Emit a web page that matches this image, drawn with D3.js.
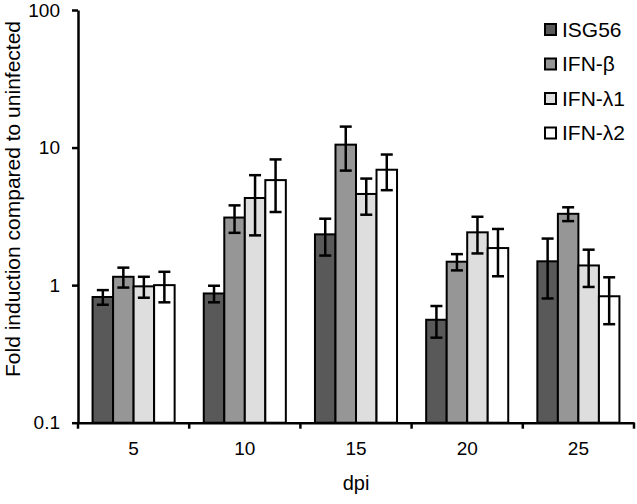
<!DOCTYPE html>
<html>
<head>
<meta charset="utf-8">
<script src="https://cdn.jsdelivr.net/npm/d3@7"></script>
<style>
  body { margin: 0; background: #fff; }
  svg { display: block; font-family: "Liberation Sans", Arial, sans-serif; }
</style>
</head>
<body>
<svg width="637" height="504"></svg>
<script>
// days post infection (x categories)
const days = ["5", "10", "15", "20", "25"];
const seriesNames = ["ISG56", "IFN-β", "IFN-λ1", "IFN-λ2"];
const seriesColors = ["#595959", "#969696", "#dedede", "#ffffff"];

// mean fold induction per series, one value per day
const isg56 = [0.82, 0.87, 2.34, 0.56, 1.49];
const ifnB = [1.15, 3.1, 10.5, 1.48, 3.3];
const ifnL1 = [0.98, 4.3, 4.6, 2.42, 1.39];
const ifnL2 = [1.0, 5.8, 6.9, 1.86, 0.83];

// error bar half-lengths (linear units)
const isg56Err = [0.10, 0.12, 0.70, 0.145, 0.69];
const ifnBErr = [0.19, 0.70, 3.7, 0.20, 0.38];
const ifnL1Err = [0.17, 2.0, 1.35, 0.72, 0.42];
const ifnL2Err = [0.25, 2.4, 2.0, 0.70, 0.31];

const yTicks = [0.1, 1, 10, 100];

const means = [isg56, ifnB, ifnL1, ifnL2];
const errs = [isg56Err, ifnBErr, ifnL1Err, ifnL2Err];

const svg = d3.select("svg");
const plot = { left: 78, right: 634, top: 10, bottom: 422.7 };

const x0 = d3.scaleBand().domain(days).range([plot.left, plot.right]).padding(0);
const x1 = d3.scaleBand().domain(seriesNames).range([0, x0.bandwidth()])
    .paddingInner(0).paddingOuter(0.71);
const y = d3.scaleLog().domain([0.1, 100]).range([plot.bottom, plot.top]);

// flatten into bar records
const rows = [];
days.forEach((d, i) => {
    seriesNames.forEach((s, j) => {
        rows.push({ day: d, series: s, color: seriesColors[j], value: means[j][i], err: errs[j][i] });
    });
});

const cx = d => x0(d.day) + x1(d.series) + x1.bandwidth() / 2;

const g = svg.append("g");

g.selectAll(".bar").data(rows).enter().append("rect")
    .attr("class", "bar")
    .attr("x", d => x0(d.day) + x1(d.series))
    .attr("y", d => y(d.value))
    .attr("width", x1.bandwidth())
    .attr("height", d => y(0.1) - y(d.value))
    .attr("fill", d => d.color)
    .attr("stroke", "#000")
    .attr("stroke-width", 2);

// error bars
const capW = 6;
const eb = g.selectAll(".err").data(rows).enter().append("g")
    .attr("class", "err")
    .attr("stroke", "#000")
    .attr("stroke-width", 2.5);
eb.append("line")
    .attr("x1", cx).attr("x2", cx)
    .attr("y1", d => y(d.value + d.err))
    .attr("y2", d => y(d.value - d.err));
eb.append("line")
    .attr("x1", d => cx(d) - capW).attr("x2", d => cx(d) + capW)
    .attr("y1", d => y(d.value + d.err))
    .attr("y2", d => y(d.value + d.err));
eb.append("line")
    .attr("x1", d => cx(d) - capW).attr("x2", d => cx(d) + capW)
    .attr("y1", d => y(d.value - d.err))
    .attr("y2", d => y(d.value - d.err));

// x axis: labels centred, ticks at group boundaries
const xAxis = svg.append("g")
    .attr("transform", `translate(0,${plot.bottom})`)
    .call(d3.axisBottom(x0).tickSize(0).tickPadding(19).tickSizeOuter(0));
xAxis.select(".domain").attr("stroke-width", 2.5);
xAxis.selectAll("text").attr("font-size", 19).attr("fill", "#000")
    .attr("font-family", "Liberation Sans, Arial, sans-serif");
const bounds = days.map(d => x0(d)).concat([x0.range()[1]]);
xAxis.selectAll(".bound").data(bounds).enter().append("line")
    .attr("class", "bound")
    .attr("x1", d => d).attr("x2", d => d)
    .attr("y1", 0).attr("y2", 6)
    .attr("stroke", "#000").attr("stroke-width", 2.5);

// y axis
const yAxis = svg.append("g")
    .attr("transform", `translate(${plot.left},0)`)
    .call(d3.axisLeft(y).tickValues(yTicks).tickFormat(d => String(d))
        .tickSize(6).tickPadding(12).tickSizeOuter(0));
yAxis.select(".domain").attr("stroke-width", 2.5);
yAxis.selectAll(".tick line").attr("stroke-width", 2.5);
yAxis.selectAll("text").attr("font-size", 19).attr("fill", "#000")
    .attr("font-family", "Liberation Sans, Arial, sans-serif");

// axis titles
svg.append("text")
    .attr("transform", `translate(19.5,199) rotate(-90)`)
    .attr("text-anchor", "middle")
    .attr("font-size", 21)
    .text("Fold induction compared to uninfected");

svg.append("text")
    .attr("x", 356).attr("y", 490)
    .attr("text-anchor", "middle")
    .attr("font-size", 20)
    .text("dpi");

// legend
const legend = svg.append("g").attr("transform", "translate(545,24)");
const item = legend.selectAll(".item").data(seriesNames).enter().append("g")
    .attr("class", "item")
    .attr("transform", (d, i) => `translate(0,${i * 34.5})`);
item.append("rect")
    .attr("width", 11).attr("height", 11)
    .attr("fill", (d, i) => seriesColors[i])
    .attr("stroke", "#000").attr("stroke-width", 2);
item.append("text")
    .attr("x", 17).attr("y", 12.5)
    .attr("font-size", 21)
    .text(d => d);
</script>
</body>
</html>
